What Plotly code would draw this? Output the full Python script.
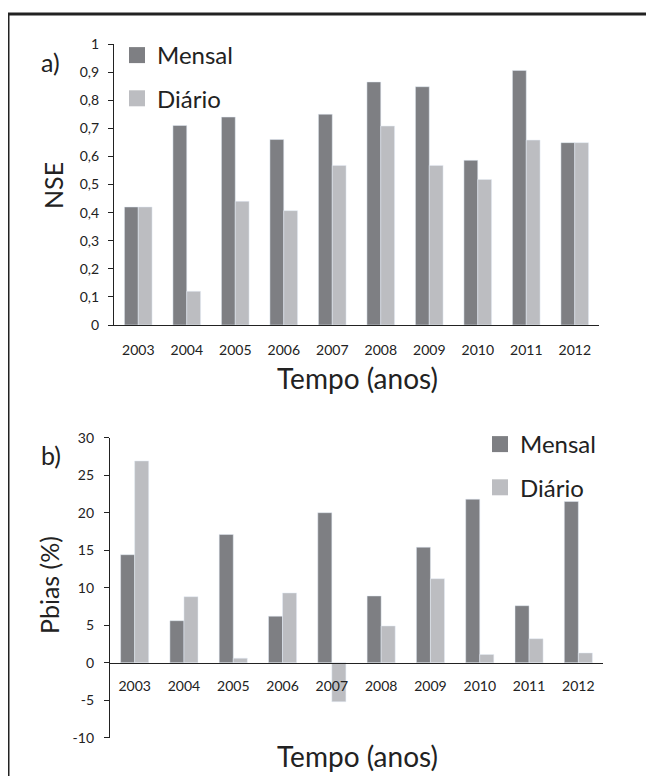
import plotly.graph_objects as go

years = ["2003", "2004", "2005", "2006", "2007", "2008", "2009", "2010", "2011", "2012"]
nse_mensal = [0.42, 0.71, 0.74, 0.66, 0.75, 0.865, 0.848, 0.586, 0.906, 0.649]
nse_diario = [0.42, 0.12, 0.44, 0.407, 0.568, 0.708, 0.568, 0.518, 0.658, 0.649]
pbias_mensal = [14.4, 5.6, 17.1, 6.2, 20.0, 8.9, 15.4, 21.8, 7.6, 21.5]
pbias_diario = [26.9, 8.8, 0.6, 9.3, -5.2, 4.9, 11.2, 1.1, 3.2, 1.3]
nse_ticks = [0, 0.1, 0.2, 0.3, 0.4, 0.5, 0.6, 0.7, 0.8, 0.9, 1]
pbias_tickvals = [-10, -5, 0, 5, 10, 15, 20, 25, 30]
pbias_ticktext = ["-10", "-5", "0", "5", "10", "15", "20", "25", "30"]
series_names = ["Mensal", "Diário"]

DARK = "#7e7f83"
LIGHT = "#bcbdc1"
FONT = "Lato"
TXT = "#222"
W, H = 654, 776
OFF = 8  # page body margin offset


def px_x(p):
    return (p - OFF) / W


def px_y(p):
    return 1 - (p - OFF) / H


fig = go.Figure()

fig.add_trace(go.Bar(x=years, y=nse_mensal, marker_color=DARK, showlegend=False,
                     xaxis="x", yaxis="y"))
fig.add_trace(go.Bar(x=years, y=nse_diario, marker_color=LIGHT, showlegend=False,
                     xaxis="x", yaxis="y"))
fig.add_trace(go.Bar(x=years, y=pbias_mensal, marker_color=DARK, showlegend=False,
                     xaxis="x2", yaxis="y2"))
fig.add_trace(go.Bar(x=years, y=pbias_diario, marker_color=LIGHT, showlegend=False,
                     xaxis="x2", yaxis="y2"))

for leg in ["legend", "legend2"]:
    for name, col in zip(series_names, [DARK, LIGHT]):
        fig.add_trace(go.Scatter(x=[None], y=[None], mode="markers", name=name,
                                 marker=dict(symbol="square", size=16, color=col),
                                 legend=leg, legendgroup=leg + name,
                                 xaxis="x", yaxis="y"))

yd1 = [px_y(325), px_y(44)]
yd2 = [px_y(737.7), px_y(437.7)]
zero_pos = yd2[0] + (0 - (-10)) / 40 * (yd2[1] - yd2[0])

axis_common = dict(showgrid=False, zeroline=False, showline=True, linecolor=TXT,
                   linewidth=1.3, tickfont=dict(family=FONT, size=14, color=TXT))
legend_common = dict(xanchor="left", yanchor="top", font=dict(family=FONT, size=24, color=TXT),
                     itemsizing="trace", tracegroupgap=9, bgcolor="rgba(0,0,0,0)", itemwidth=30)


def label(text, x, y, size, angle=0):
    return dict(text=text, x=px_x(x), y=px_y(y), xref="paper", yref="paper",
                xanchor="center", yanchor="middle", textangle=angle, showarrow=False,
                font=dict(family=FONT, size=size, color=TXT))


fig.update_layout(
    width=W, height=H,
    margin=dict(l=0, r=0, t=0, b=0, autoexpand=False),
    paper_bgcolor="white", plot_bgcolor="white",
    separators=", ",
    barmode="group", bargap=0.43, bargroupgap=0,
    font=dict(family=FONT, color=TXT),
    xaxis=dict(domain=[px_x(114), px_x(599)], anchor="y", ticks="outside", ticklen=12,
               tickcolor="rgba(0,0,0,0)", **axis_common),
    yaxis=dict(domain=yd1, anchor="x", range=[0, 1], tickvals=nse_ticks, ticks="outside",
               ticklen=5, tickcolor=TXT, ticklabelstandoff=6, **axis_common),
    xaxis2=dict(domain=[px_x(110), px_x(603)], anchor="free", position=zero_pos,
                ticks="outside", ticklen=10, tickcolor="rgba(0,0,0,0)", **axis_common),
    yaxis2=dict(domain=yd2, anchor="x2", range=[-10, 30], tickvals=pbias_tickvals,
                ticktext=pbias_ticktext, ticks="outside", ticklen=5, tickcolor=TXT,
                ticklabelstandoff=7, **axis_common),
    legend=dict(x=px_x(117), y=px_y(33), **legend_common),
    legend2=dict(x=px_x(480), y=px_y(422), **legend_common),
    shapes=[
        dict(type="line", xref="paper", yref="paper", x0=px_x(8), x1=1.0,
             y0=px_y(14), y1=px_y(14), line=dict(color=TXT, width=3)),
        dict(type="line", xref="paper", yref="paper", x0=px_x(8), x1=px_x(8),
             y0=px_y(14), y1=0, line=dict(color=TXT, width=3)),
    ],
    annotations=[
        label("a)", 50.5, 62, 25),
        label("b)", 51, 455, 25),
        label("NSE", 53, 186, 25, -90),
        label("Pbias (%)", 49, 585, 25, -90),
        label("Tempo (anos)", 357, 378, 28),
        label("Tempo (anos)", 357, 756, 28),
    ],
)

fig.write_html("out.html")
